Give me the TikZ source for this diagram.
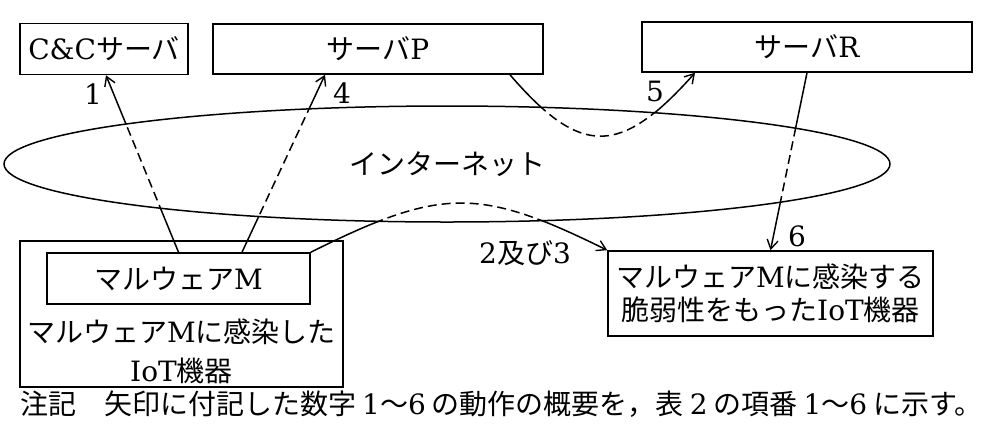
\documentclass[tikz,border=0pt]{standalone}
\usepackage{fontspec}
\setmainfont{DejaVu Serif}
\newfontfamily\jpfont{Noto Sans CJK JP}
\newcommand\jtxt[1]{{\jpfont #1}}
\newcommand\dg[1]{\hspace{6pt}#1\hspace{6pt}}
\usetikzlibrary{shapes.geometric,arrows.meta}
\begin{document}
\begin{tikzpicture}[x=1pt,y=-1pt,
  every node/.style={font=\fontsize{28}{33}\selectfont},
  box/.style={draw, line width=1.6pt, inner sep=0pt},
  lbl/.style={inner sep=0pt},
  conn/.style={line width=1.5pt},
  tip/.style={-{Straight Barb[length=9pt,width=11pt,line width=1.4pt]}},
  dsh/.style={dash pattern=on 9pt off 5pt}]
\useasboundingbox (0,0) rectangle (990,432);
% top boxes
\node[box, minimum width=168pt, minimum height=51pt] (cc) at (104,49) {C\&C\jtxt{サーバ}};
\node[box, minimum width=330pt, minimum height=50pt] (P) at (378,49) {\jtxt{サーバ}P};
\node[box, minimum width=330pt, minimum height=50pt] (R) at (807,47) {\jtxt{サーバ}R};
% internet
\node[draw, line width=1.5pt, ellipse, minimum width=886pt, minimum height=116pt, inner sep=0pt] (inet) at (447,164) {\jtxt{インターネット}};
% infected device
\node[box, minimum width=323pt, minimum height=146pt] (dev) at (181.5,314) {};
\node[box, minimum width=263pt, minimum height=51pt] (mal) at (178.5,278.5) {\jtxt{マルウェア}M};
\node[lbl, align=center, font=\fontsize{28}{39}\selectfont] (devlbl) at (181.5,351) {\jtxt{マルウェア}M\jtxt{に感染した}\\IoT\jtxt{機器}};
% target device
\node[box, minimum width=325pt, minimum height=85pt, align=center] (tgt) at (770.5,293.5) {\jtxt{マルウェア}M\jtxt{に感染する}\\\jtxt{脆弱性をもった}IoT\jtxt{機器}};
% labels
\node[lbl] (l1) at (93,94) {1};
\node[lbl] (l4) at (342,93) {4};
\node[lbl] (l5) at (655,91) {5};
\node[lbl] (l6) at (797,236) {6};
\node[lbl] (l23) at (525,253) {2\jtxt{及び}3};
% note
\node[lbl, anchor=west] (note) at (20,404) {\jtxt{注記　矢印に付記した数字}\dg{1\jtxt{～}6}\jtxt{の動作の概要を，表}\dg{2}\jtxt{の項番}\dg{1\jtxt{～}6}\jtxt{に示す。}};
% connectors: solid outside the internet
\begin{scope}[even odd rule]
\clip (0,0) rectangle (990,432) (inet.center) ellipse [x radius=443pt, y radius=58pt];
\draw[conn,tip] (mal.north) -- ([xshift=2pt]cc.south);
\draw[conn,tip] ([xshift=63.5pt]mal.north) -- ([xshift=-53pt]P.south);
\draw[conn,tip] ([xshift=132pt]P.south) .. controls (581,157) and (620,157) .. ([xshift=-112pt]R.south);
\draw[conn,tip] (R.south) -- (tgt.north);
\draw[conn,tip] (mal.north east) .. controls (442,187) and (479,187) .. (tgt.north west);
\end{scope}
% connectors: dashed inside the internet
\begin{scope}
\clip (inet.center) ellipse [x radius=443pt, y radius=58pt];
\draw[conn,dsh] (mal.north) -- ([xshift=2pt]cc.south);
\draw[conn,dsh] ([xshift=63.5pt]mal.north) -- ([xshift=-53pt]P.south);
\draw[conn,dsh] ([xshift=132pt]P.south) .. controls (581,157) and (620,157) .. ([xshift=-112pt]R.south);
\draw[conn,dsh] (R.south) -- (tgt.north);
\draw[conn,dsh] (mal.north east) .. controls (442,187) and (479,187) .. (tgt.north west);
\end{scope}
\end{tikzpicture}
\end{document}
